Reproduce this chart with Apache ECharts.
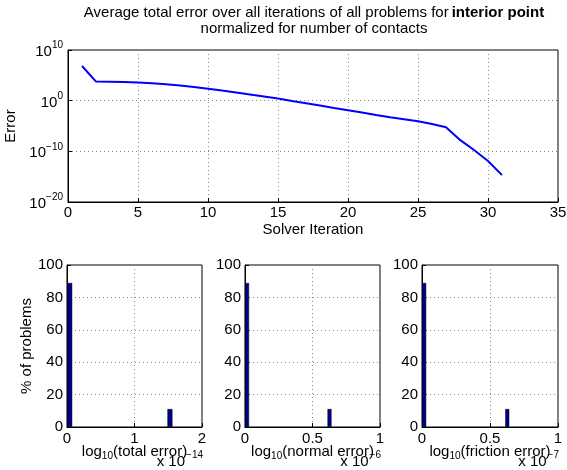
<!DOCTYPE html>
<html>
<head>
<meta charset="utf-8">
<script src="https://cdn.jsdelivr.net/npm/echarts@6/dist/echarts.min.js"></script>
<style>html,body{margin:0;padding:0;background:#fff;}#c{width:567px;height:470px;}</style>
</head>
<body>
<div id="c"></div>
<script>
// ---- data ----
var iterations = [1,2,3,4,5,6,7,8,9,10,11,12,13,14,15,16,17,18,19,20,21,22,23,24,25,26,27,28,29,30,31];
var avgError = [7e6,5.9e3,5.6e3,5e3,3.8e3,2.8e3,1.8e3,1e3,5e2,2.3e2,1e2,42,17,6.8,2.6,0.9,0.32,0.11,0.036,0.0126,4.4e-3,1.5e-3,5.5e-4,2.2e-4,8.9e-5,2.5e-5,5.6e-6,1.8e-8,1.8e-10,1.26e-12,2e-15];
var totalBinCenters = [0.04, 1.525];      // x 1e-14
var totalPercent = [88.9, 11.1];
var normalBinCenters = [0.015, 0.626];    // x 1e-6
var normalPercent = [88.9, 11.1];
var frictionBinCenters = [0.016, 0.627];  // x 1e-7
var frictionPercent = [88.9, 11.1];
var topXTicks = [0,5,10,15,20,25,30,35];
var histYTicks = [0,20,40,60,80,100];

var FONT = 'Liberation Sans, Arial, Helvetica, sans-serif';
var FS = 15;
var chart = echarts.init(document.getElementById('c'), null, {renderer:'canvas'});

function pairs(xs, ys){ return xs.map(function(x,i){ return [x, ys[i]]; }); }
var dotted = {show:true, lineStyle:{color:'#888', type:[1,3], width:1}};

function g(left, top, width, height){
  return {left:left, top:top, width:width, height:height, show:true, borderColor:'#000', borderWidth:1,
          containLabel:false, outerBoundsMode:'none'};
}
var grids = [ g(68,50,490,152), g(67,265,135,162), g(245,265,135,162), g(422,265,136,162) ];

function histX(gi, max, interval, fmt){
  return {type:'value', gridIndex:gi, min:0, max:max, interval:interval,
    axisLine:{show:true, lineStyle:{color:'#000'}},
    axisTick:{show:true, inside:true, length:4, lineStyle:{color:'#000'}},
    splitLine:dotted,
    axisLabel:{color:'#000', fontSize:FS, fontFamily:FONT, margin:4, formatter:fmt}};
}
function histY(gi, withName){
  var a = {type:'value', gridIndex:gi, min:0, max:100, interval:20,
    axisLine:{show:true, lineStyle:{color:'#000'}},
    axisTick:{show:true, inside:true, length:4, lineStyle:{color:'#000'}},
    splitLine:dotted,
    axisLabel:{color:'#000', fontSize:FS, fontFamily:FONT, margin:4,
      formatter:function(v){ return histYTicks.indexOf(v)>=0 ? String(v) : ''; }}};
  if (withName){
    a.name = '% of problems'; a.nameLocation='middle'; a.nameGap=29;
    a.nameTextStyle = {color:'#000', fontSize:FS, fontFamily:FONT};
  }
  return a;
}
function fmtHalf(v){ return v===0.5 ? '0.5' : String(v); }

var barStyle = {color:'#000088', borderColor:'#000', borderWidth:0.5};

function xName(cx, label){
  return {type:'text', x:cx, y:452, style:{text:'{a|log}{s|10}{a|('+label+')}', align:'center', verticalAlign:'middle',
    rich:{a:{fontSize:FS, fontFamily:FONT, fill:'#000'}, s:{fontSize:10, fontFamily:FONT, fill:'#000', padding:[9,0,0,0]}}}};
}
function xExp(rx, exp){
  return {type:'text', x:rx, y:462, style:{text:'{a|x 10}{s|\u2212'+exp+'}', align:'right', verticalAlign:'middle',
    rich:{a:{fontSize:FS, fontFamily:FONT, fill:'#000'}, s:{fontSize:10, fontFamily:FONT, fill:'#000', padding:[0,0,13,1]}}}};
}

var option = {
  animation:false,
  backgroundColor:'#fff',
  grid: grids,
  xAxis: [
    {type:'value', gridIndex:0, min:0, max:35, interval:5,
     name:'Solver Iteration', nameLocation:'middle', nameGap:20,
     nameTextStyle:{color:'#000', fontSize:FS, fontFamily:FONT},
     axisLine:{show:true, lineStyle:{color:'#000'}},
     axisTick:{show:true, inside:true, length:4, lineStyle:{color:'#000'}},
     splitLine:dotted,
     axisLabel:{color:'#000', fontSize:FS, fontFamily:FONT, margin:3,
       formatter:function(v){ return topXTicks.indexOf(v)>=0 ? String(v) : ''; }}},
    histX(1, 2, 1, function(v){return String(v);}),
    histX(2, 1, 0.5, fmtHalf),
    histX(3, 1, 0.5, fmtHalf)
  ],
  yAxis: [
    {type:'log', gridIndex:0, min:1e-20, max:1e10, logBase:10, interval:10,
     name:'Error', nameLocation:'middle', nameGap:41,
     nameTextStyle:{color:'#000', fontSize:FS, fontFamily:FONT},
     axisLine:{show:true, lineStyle:{color:'#000'}},
     axisTick:{show:true, inside:true, length:4, lineStyle:{color:'#000'}},
     splitLine:dotted,
     axisLabel:{color:'#000', fontFamily:FONT, margin:5,
       formatter:function(v){ var e=Math.round(Math.log10(v)); return '{b|10}{s|'+(e<0?'\u2212'+(-e):e)+'}'; },
       rich:{b:{fontSize:FS, fontFamily:FONT, color:'#000', verticalAlign:'bottom'},
             s:{fontSize:10, fontFamily:FONT, color:'#000', verticalAlign:'top', padding:[0,0,9,0]}}}},
    histY(1, true),
    histY(2, false),
    histY(3, false)
  ],
  series: [
    {type:'line', xAxisIndex:0, yAxisIndex:0, data:pairs(iterations, avgError),
     showSymbol:false, symbol:'none', lineStyle:{color:'#0000ff', width:2}, itemStyle:{color:'#0000ff'}},
    {type:'bar', xAxisIndex:1, yAxisIndex:1, data:pairs(totalBinCenters,totalPercent), barWidth:5, itemStyle:barStyle},
    {type:'bar', xAxisIndex:2, yAxisIndex:2, data:pairs(normalBinCenters,normalPercent), barWidth:4, itemStyle:barStyle},
    {type:'bar', xAxisIndex:3, yAxisIndex:3, data:pairs(frictionBinCenters,frictionPercent), barWidth:4, itemStyle:barStyle}
  ],
  graphic: [
    {type:'text', x:314, y:13, style:{text:'{a|Average total error over all iterations of all problems for}{b|interior point}',
      align:'center', verticalAlign:'middle',
      rich:{a:{fontSize:FS, fontFamily:FONT, fill:'#000'}, b:{fontSize:FS, fontFamily:FONT, fontWeight:'bold', fill:'#000', padding:[0,0,0,3]}}}},
    {type:'text', x:314, y:29, style:{text:'normalized for number of contacts', fontSize:FS, fontFamily:FONT, fill:'#000', align:'center', verticalAlign:'middle'}},
    xName(134.5, 'total error'),
    xExp(203, '14'),
    xName(312.5, 'normal error'),
    xExp(381, '6'),
    xName(490, 'friction error'),
    xExp(559, '7')
  ]
};
chart.setOption(option);
</script>
</body>
</html>
